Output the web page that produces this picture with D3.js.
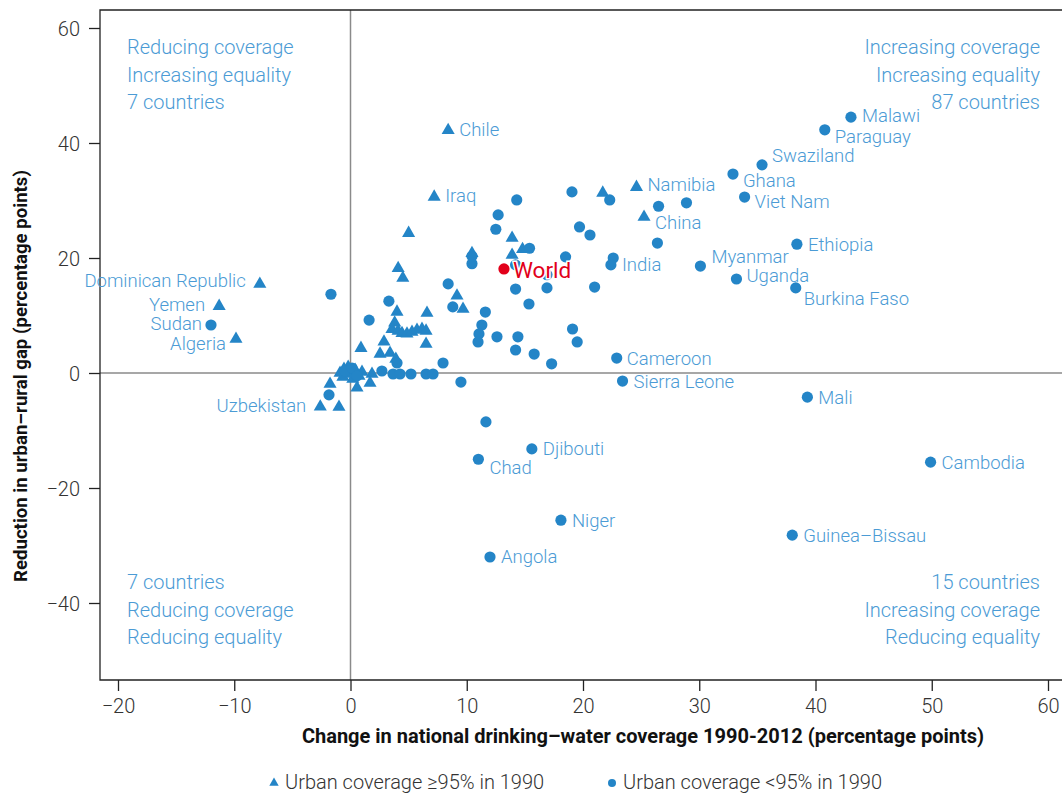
<!DOCTYPE html>
<html><head><meta charset="utf-8">
<script src="https://cdn.jsdelivr.net/npm/d3@7"></script>
<style>body{margin:0;background:#fff}svg{display:block;font-family:Roboto,"Noto Sans",sans-serif}</style>
</head><body><svg id="c" width="1062" height="793"></svg>
<script>
// ---------- DATA ----------
const xTicks = [-20,-10,0,10,20,30,40,50,60];
const yTicks = [-40,-20,0,20,40,60];

// Labelled countries
const labelNames = ["Chile","Iraq","Dominican Republic","Yemen","Sudan","Algeria","Uzbekistan","Malawi","Paraguay","Swaziland","Ghana","Viet Nam","Namibia","China","Ethiopia","Myanmar","Uganda","Burkina Faso","India","Cameroon","Sierra Leone","Mali","Cambodia","Djibouti","Chad","Niger","Angola","Guinea–Bissau"];
const labelX = [8.4,7.2,-7.8,-11.3,-12.0,-9.85,-2.6,43.05,40.8,35.4,32.9,33.9,24.6,25.25,38.4,30.1,33.2,38.3,22.4,22.9,23.4,39.3,49.9,15.6,11.0,18.1,12.0,38.0];
const labelY = [42.4,30.8,15.65,11.8,8.35,6.1,-5.7,44.5,42.3,36.2,34.6,30.6,32.5,27.3,22.4,18.6,16.35,14.8,18.8,2.6,-1.4,-4.2,-15.5,-13.2,-15.0,-25.6,-32.0,-28.2];
const labelGroup = ["tri","tri","tri","tri","circ","tri","tri","circ","circ","circ","circ","circ","tri","tri","circ","circ","circ","circ","circ","circ","circ","circ","circ","circ","circ","circ","circ","circ"];

// World aggregate
const worldX = 13.2, worldY = 18.1;

// Unlabelled: urban coverage >=95% in 1990 (triangles)
const triX = [21.7,5.0,13.9,14.8,13.9,10.45,9.16,9.68,6.58,6.5,4.1,4.5,4.0,3.8,3.57,4.09,4.43,4.86,5.29,5.72,6.15,6.5,2.88,0.9,2.54,3.4,3.9,1.85,1.68,0.56,-1.76,-0.99,-0.9,-0.56,-0.2,0.04,0.4,0.73,-0.65,0.2,0.99,-0.3];
const triY = [31.5,24.5,23.65,21.7,20.7,21.0,13.6,11.3,10.6,5.2,18.4,16.7,10.8,8.9,7.8,7.5,7.1,7.0,7.3,7.65,7.8,7.5,5.6,4.5,3.5,3.65,2.6,0,-1.57,-2.4,-1.74,-5.74,0.17,0.87,1.2,0.17,0.7,-0.35,-0.5,-0.87,0.35,0];

// Unlabelled: urban coverage <95% in 1990 (circles)
const circX = [19.05,22.3,26.5,28.9,19.7,20.6,26.4,18.5,22.6,21.0,14.3,12.7,12.5,15.4,10.45,10.45,14.2,16.9,8.4,14.2,16.9,8.8,11.6,15.35,11.3,11.05,10.97,12.6,14.4,14.2,15.8,17.3,19.1,19.5,7.96,9.5,11.65,-1.68,-1.85,3.3,1.6,4.0,2.7,3.66,4.26,5.2,6.5,7.1,-0.47,0.13,0.56];
const circY = [31.5,30.1,29.0,29.6,25.4,24.0,22.6,20.2,20.0,14.95,30.1,27.5,25.0,21.7,19.0,20.3,18.8,17.1,15.5,14.6,14.8,11.5,10.6,12.0,8.35,6.8,5.4,6.3,6.3,4.0,3.3,1.6,7.65,5.4,1.74,-1.57,-8.5,13.7,-3.8,12.5,9.2,1.74,0.35,-0.17,-0.17,-0.17,-0.17,-0.17,0.35,0.87,-0.5];

const quadrantNotes = [
  ["Reducing coverage","Increasing equality","7 countries"],
  ["Increasing coverage","Increasing equality","87 countries"],
  ["7 countries","Reducing coverage","Reducing equality"],
  ["15 countries","Increasing coverage","Reducing equality"]
];
const legendLabels = ["Urban coverage ≥95% in 1990","Urban coverage <95% in 1990"];
const xTitle = "Change in national drinking–water coverage 1990-2012 (percentage points)";
const yTitle = "Reduction in urban–rural gap (percentage points)";

// ---------- STYLE / LAYOUT ----------
const PT = "#2485c7", LBL = "#4b9bd5", RED = "#e2001a", INK = "#333";
// label placement: [dx, dy, anchor]
const labelPlace = {
  "Chile":[11,0,"start"],"Iraq":[11,0,"start"],"Dominican Republic":[-14,-2,"end"],"Yemen":[-14,-1,"end"],
  "Sudan":[-9,-1,"end"],"Algeria":[-10,6,"end"],"Uzbekistan":[-14,0,"end"],"Malawi":[11,-2,"start"],
  "Paraguay":[10,7,"start"],"Swaziland":[10,-9,"start"],"Ghana":[10,6,"start"],"Viet Nam":[10,4,"start"],
  "Namibia":[11,-2,"start"],"China":[11,6,"start"],"Ethiopia":[11,0,"start"],"Myanmar":[11,-10,"start"],
  "Uganda":[10,-3,"start"],"Burkina Faso":[8,11,"start"],"India":[11,0,"start"],"Cameroon":[10,0,"start"],
  "Sierra Leone":[11,0,"start"],"Mali":[11,0,"start"],"Cambodia":[11,0,"start"],"Djibouti":[11,0,"start"],
  "Chad":[11,8,"start"],"Niger":[11,0,"start"],"Angola":[11,0,"start"],"Guinea–Bissau":[11,0,"start"]
};

const svg = d3.select("#c");
const x = d3.scaleLinear().domain([-20,60]).range([118,1048]);
const y = d3.scaleLinear().domain([-40,60]).range([603,28]);
const fL = 100, fT = 10, fB = 680, fR = 1064;

// zero lines
svg.append("line").attr("x1",x(0)).attr("x2",x(0)).attr("y1",fT).attr("y2",fB)
  .attr("stroke","#8a8a8a").attr("stroke-width",1.5);
svg.append("line").attr("x1",fL).attr("x2",fR).attr("y1",y(0)).attr("y2",y(0))
  .attr("stroke","#8a8a8a").attr("stroke-width",1.5);

// frame
svg.append("path").attr("d",`M${fR},${fT}H${fL}V${fB}H${fR}`)
  .attr("fill","none").attr("stroke","#222").attr("stroke-width",1.3);

// axes
const gx = svg.append("g").attr("transform",`translate(0,${fB})`)
  .call(d3.axisBottom(x).tickValues(xTicks).tickSize(11).tickPadding(8).tickFormat(d3.format("d")));
const gy = svg.append("g").attr("transform",`translate(${fL},0)`)
  .call(d3.axisLeft(y).tickValues(yTicks).tickSize(11).tickPadding(9).tickFormat(d3.format("d")));
[gx,gy].forEach(g=>{
  g.select(".domain").remove();
  g.selectAll("line").attr("stroke","#222").attr("stroke-width",1.3);
  g.selectAll("text").attr("fill",INK).style("font-size","20px").style("font-family","Roboto").style("font-weight",300);
});
gy.selectAll("text").attr("dy","0.35em");

// titles
svg.append("text").attr("x",643).attr("y",743).attr("text-anchor","middle")
  .style("font-size","20px").style("font-weight",700).attr("fill","#111").text(xTitle);
svg.append("text").attr("transform",`translate(27,376) rotate(-90)`).attr("text-anchor","middle")
  .style("font-size","18.6px").style("font-weight",700).attr("fill","#111").text(yTitle);

// quadrant notes
const noteStyle = s=>s.style("font-size","20px").attr("fill",LBL).style("font-weight",300);
const noteBlocks = [
  {x:127, y0:47, anchor:"start"},
  {x:1040, y0:47, anchor:"end"},
  {x:127, y0:582, anchor:"start"},
  {x:1040, y0:582, anchor:"end"}
];
quadrantNotes.forEach((lines,i)=>{
  const b = noteBlocks[i];
  lines.forEach((t,j)=>{
    svg.append("text").attr("x",b.x).attr("y",b.y0 + j*27.5).attr("dy","0.35em")
      .attr("text-anchor",b.anchor).call(noteStyle).text(t);
  });
});

// markers
function tri(g, px, py, sz){ g.append("path").attr("d", d3.symbol().type(d3.symbolTriangle).size(sz)()).attr("transform",`translate(${px},${py+1})`).attr("fill",PT); }
const pts = svg.append("g");
triX.forEach((v,i)=> tri(pts, x(v), y(triY[i]), 74));
circX.forEach((v,i)=> pts.append("circle").attr("cx",x(v)).attr("cy",y(circY[i])).attr("r",5.6).attr("fill",PT));
labelNames.forEach((n,i)=>{
  if(labelGroup[i]==="tri") tri(pts, x(labelX[i]), y(labelY[i]), 74);
  else pts.append("circle").attr("cx",x(labelX[i])).attr("cy",y(labelY[i])).attr("r",5.6).attr("fill",PT);
});

// labels
const lg = svg.append("g");
labelNames.forEach((n,i)=>{
  const p = labelPlace[n];
  lg.append("text").attr("x",x(labelX[i])+p[0]).attr("y",y(labelY[i])+p[1]).attr("dy","0.35em")
    .attr("text-anchor",p[2]).style("font-size","18.5px").style("font-weight",300).attr("fill",LBL).text(n);
});

// world
svg.append("circle").attr("cx",x(worldX)).attr("cy",y(worldY)).attr("r",5.6).attr("fill",RED);
svg.append("text").attr("x",x(worldX)+9).attr("y",y(worldY)+1).attr("dy","0.35em")
  .style("font-size","22.5px").style("font-weight",400).attr("fill",RED)
  .attr("stroke","#fff").attr("stroke-width",3).attr("paint-order","stroke").text("World");

// legend
const leg = svg.append("g");
leg.append("path").attr("d",d3.symbol().type(d3.symbolTriangle).size(38)()).attr("transform","translate(274,783)").attr("fill",PT);
leg.append("text").attr("x",285).attr("y",782).attr("dy","0.35em").style("font-size","20px").style("font-weight",300).attr("fill",INK).text(legendLabels[0]);
leg.append("circle").attr("cx",612).attr("cy",783).attr("r",4).attr("fill",PT);
leg.append("text").attr("x",623).attr("y",782).attr("dy","0.35em").style("font-size","20px").style("font-weight",300).attr("fill",INK).text(legendLabels[1]);
</script></body></html>
